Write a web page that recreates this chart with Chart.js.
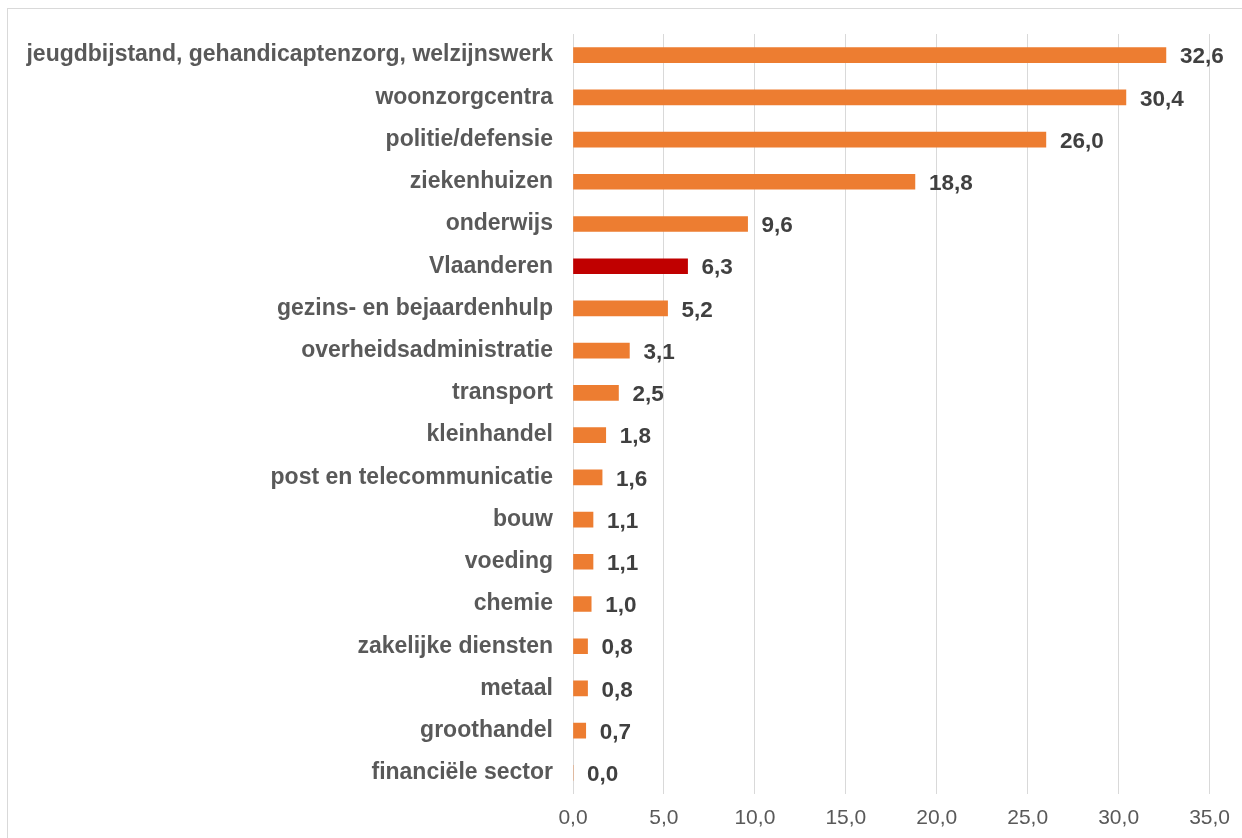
<!DOCTYPE html>
<html><head><meta charset="utf-8">
<script src="https://cdn.jsdelivr.net/npm/chart.js@4"></script>
<style>
html,body{margin:0;padding:0;background:#fff;}
#wrap{position:absolute;left:0;top:0;width:1242px;height:838px;}
#frame{position:absolute;left:7px;top:8px;width:1260px;height:860px;border:1px solid #d9d9d9;box-sizing:border-box;}
</style></head>
<body>
<div id="frame"></div>
<div id="wrap"><canvas id="c" width="1242" height="838"></canvas></div>
<script>
const categories = ["jeugdbijstand, gehandicaptenzorg, welzijnswerk","woonzorgcentra","politie/defensie","ziekenhuizen","onderwijs","Vlaanderen","gezins- en bejaardenhulp","overheidsadministratie","transport","kleinhandel","post en telecommunicatie","bouw","voeding","chemie","zakelijke diensten","metaal","groothandel","financiële sector"];
const values = [32.6,30.4,26.0,18.8,9.6,6.3,5.2,3.1,2.5,1.8,1.6,1.1,1.1,1.0,0.8,0.8,0.7,0.0];
const highlight = "Vlaanderen";
const xTicks = [0,5,10,15,20,25,30,35];

const fmt = v => v.toFixed(1).replace('.', ',');
const colors = categories.map(c => c === highlight ? '#c00000' : '#ed7d31');

const labelPlugin = {
  id: 'valueLabels',
  afterDatasetsDraw(chart) {
    const ctx = chart.ctx;
    const meta = chart.getDatasetMeta(0);
    ctx.save();
    ctx.font = 'bold 22.5px "Liberation Sans", Arial, sans-serif';
    ctx.fillStyle = '#404040';
    ctx.textBaseline = 'middle';
    ctx.textAlign = 'left';
    meta.data.forEach((bar, i) => {
      ctx.fillText(fmt(values[i]), bar.x + 14, bar.y + 2);
    });
    ctx.restore();
  }
};

new Chart(document.getElementById('c'), {
  type: 'bar',
  data: { labels: categories, datasets: [{ data: values, backgroundColor: colors, barThickness: 15 }] },
  options: {
    indexAxis: 'y',
    responsive: false,
    animation: false,
    layout: { padding: { top: 34, right: 32, left: 0, bottom: 0 } },
    plugins: { legend: { display: false }, tooltip: { enabled: false } },
    scales: {
      x: {
        min: 0, max: 35,
        afterBuildTicks: s => { s.ticks = xTicks.map(v => ({ value: v })); },
        afterFit: s => { s.height = 44; },
        grid: { color: '#d9d9d9', lineWidth: 1, drawTicks: false },
        border: { display: false },
        ticks: { padding: 12, color: '#595959', font: { family: '"Liberation Sans", Arial, sans-serif', size: 21 }, callback: v => fmt(v) }
      },
      y: {
        afterFit: s => { s.width = 573; },
        grid: { display: false, drawTicks: false },
        border: { display: false },
        ticks: { padding: 20, color: '#595959', font: { family: '"Liberation Sans", Arial, sans-serif', size: 23, weight: 'bold' } }
      }
    }
  },
  plugins: [labelPlugin]
});
</script>
</body></html>
